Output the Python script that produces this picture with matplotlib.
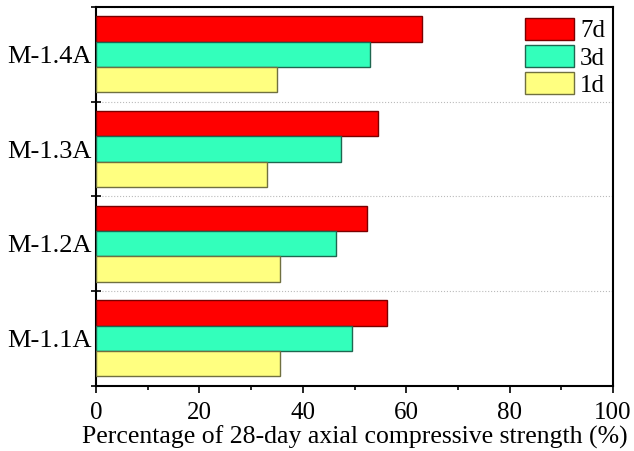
import numpy as np
import matplotlib
matplotlib.use('Agg')
import matplotlib.pyplot as plt
from matplotlib.ticker import MultipleLocator, FixedLocator

plt.rcParams['font.family'] = ['Liberation Serif', 'DejaVu Serif']

# Datos
groups = ['M-1.1A', 'M-1.2A', 'M-1.3A', 'M-1.4A']
d1 = [35.6, 35.6, 33.0, 35.0]
d3 = [49.6, 46.4, 47.3, 53.0]
d7 = [56.3, 52.5, 54.6, 63.0]
series_labels = ['7d', '3d', '1d']

fig = plt.figure(figsize=(6.34, 4.51), dpi=100)
ax = fig.add_axes([0.1514, 0.1448, 0.8155, 0.8397])

y = np.arange(len(groups))
h = 0.8 / 3

ax.barh(y + h, d7, height=h, color='#FF0000', edgecolor='#7a0000', linewidth=1.0, label=series_labels[0], zorder=3)
ax.barh(y, d3, height=h, color='#33FFBB', edgecolor='#1f6650', linewidth=1.0, label=series_labels[1], zorder=3)
ax.barh(y - h, d1, height=h, color='#FFFF80', edgecolor='#707040', linewidth=1.0, label=series_labels[2], zorder=3)

ax.set_xlim(0, 100)
ax.set_ylim(-0.5, len(groups) - 0.5)

ax.xaxis.set_major_locator(MultipleLocator(20))
ax.xaxis.set_minor_locator(MultipleLocator(10))
ax.set_yticks(y)
ax.set_yticklabels(groups)
ax.yaxis.set_minor_locator(FixedLocator(np.arange(-0.5, len(groups), 1.0)))

ax.tick_params(axis='x', which='major', direction='out', length=5, width=1.2, labelsize=18, pad=7)
ax.tick_params(axis='x', which='minor', direction='out', length=3, width=1.2)
ax.tick_params(axis='y', which='major', length=0, labelsize=19, pad=3)
ax.tick_params(axis='y', which='minor', direction='inout', length=7, width=1.2)

for s in ax.spines.values():
    s.set_linewidth(1.5)

ax.grid(axis='y', which='minor', linestyle=':', color='#bbbbbb', linewidth=0.8, zorder=0)

ax.set_xlabel('Percentage of 28-day axial compressive strength (%)', fontsize=18.5, labelpad=1)

leg = ax.legend(loc='upper left', frameon=False, fontsize=18, handlelength=1.96,
                handleheight=1.0, handletextpad=0.24, labelspacing=0.1,
                borderpad=0, borderaxespad=0, bbox_to_anchor=(0.83, 0.972))

plt.savefig('out.png', dpi=100)
